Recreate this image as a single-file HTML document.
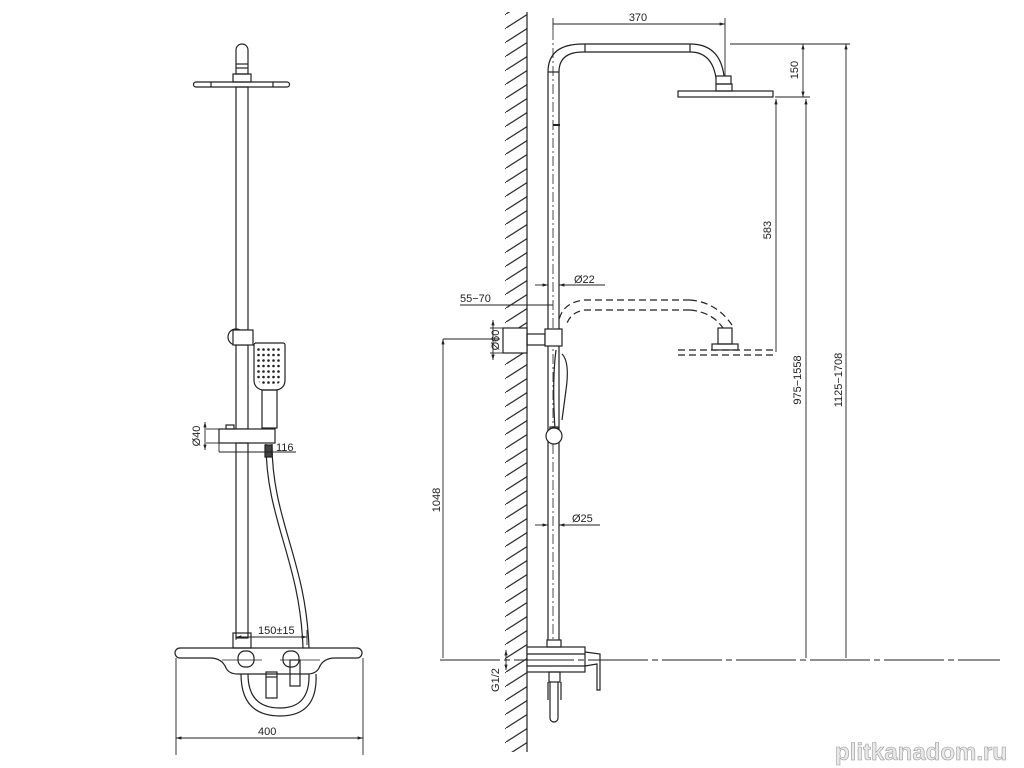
<!DOCTYPE html>
<html><head><meta charset="utf-8"><style>
html,body{margin:0;padding:0;background:#fff;}
svg{display:block;}
text{font-family:"Liberation Sans",sans-serif;fill:#222;}
</style></head><body>
<svg width="1024" height="768" viewBox="0 0 1024 768" xmlns="http://www.w3.org/2000/svg">
<defs>
<marker id="a" viewBox="0 0 10 10" refX="10" refY="5" markerWidth="6" markerHeight="6" orient="auto-start-reverse"><path d="M0,2 L10,5 L0,8 z" fill="#222"/></marker>
<pattern id="h" width="22" height="14" patternUnits="userSpaceOnUse"><path d="M0,14 L22,0" stroke="#333" stroke-width="1.3"/></pattern>
<pattern id="d" x="256" y="347" width="5" height="5.5" patternUnits="userSpaceOnUse"><circle cx="2.5" cy="2.5" r="1.3" fill="#222"/></pattern>
</defs>
<g fill="none" stroke="#222" stroke-width="1.2">
<!-- LEFT VIEW -->
<path d="M236,50 a6,6 0 0 1 12,0 V74 H236 Z"/>
<line x1="236" y1="64" x2="248" y2="64"/><line x1="236" y1="68" x2="248" y2="68"/>
<rect x="233" y="74" width="18" height="8"/>
<path d="M196,82 H287 a2,2 0 0 1 0,5 H196 a2,2 0 0 1 0,-5 Z"/>
<line x1="211" y1="82" x2="211" y2="87"/><line x1="273" y1="82" x2="273" y2="87"/>
<rect x="236" y="87" width="12" height="243"/>
<rect x="236" y="345" width="12" height="84"/>
<circle cx="236" cy="337" r="8"/>
<rect x="233" y="330" width="20" height="15" fill="#fff"/>
<path d="M255,343 H283 a2,2 0 0 1 2,2 V380 q0,8 -8,10 H262 q-8,-2 -8,-10 V345 a2,2 0 0 1 2,-2Z"/>
<path d="M257,347 H282 V378 q-2,6 -8,8 H265 q-6,-2 -8,-8 Z" fill="url(#d)" stroke="none"/>
<rect x="262" y="390" width="15" height="38"/>
<rect x="219" y="429" width="56" height="14" fill="#fff"/>
<rect x="226" y="425" width="8" height="4"/>
<rect x="236" y="443" width="12" height="195"/>
<rect x="233" y="633" width="18" height="15"/>
<path d="M266,444 C266,520 300,560 303,648 M272,444 C272,520 306,560 309,648"/>
<rect x="265" y="445" width="7" height="12" fill="#444"/>
<!-- mixer -->
<path d="M180,648 H357 a5,5 0 0 1 0,10 H335 q-12,0 -16,10 q-3,6 -12,6 H238 q-9,0 -12,-6 q-4,-10 -16,-10 H180 a5,5 0 0 1 0,-10 Z"/>
<path d="M241,674 Q241,716 280,716 Q318,716 316,674 M248,674 Q248,708 280,708 Q310,708 309,674"/>
<rect x="238" y="651" width="16" height="16" rx="7"/>
<rect x="283" y="651" width="16" height="16" rx="7"/>
<rect x="290" y="660" width="10" height="26"/>
<rect x="266" y="672" width="11" height="26"/>
<line x1="266" y1="677" x2="277" y2="677"/>
<line x1="222" y1="660" x2="262" y2="660" stroke-width="0.8"/>
<line x1="280" y1="660" x2="320" y2="660" stroke-width="0.8"/>
<!-- left dims -->
<g stroke-width="0.9">
<line x1="206" y1="429" x2="219" y2="429"/><line x1="206" y1="443" x2="219" y2="443"/>
<line x1="205" y1="422" x2="205" y2="450" marker-start="url(#a)" marker-end="url(#a)"/>
<line x1="219" y1="443" x2="219" y2="452"/>
<line x1="219" y1="452" x2="296" y2="452"/>
<line x1="236" y1="630" x2="236" y2="640"/><line x1="307" y1="630" x2="307" y2="645"/>
<line x1="236" y1="637" x2="307" y2="637" marker-start="url(#a)" marker-end="url(#a)"/>
<line x1="176" y1="658" x2="176" y2="755"/><line x1="363" y1="658" x2="363" y2="755"/>
<line x1="176" y1="738" x2="363" y2="738" marker-start="url(#a)" marker-end="url(#a)"/>
</g>
<!-- RIGHT VIEW -->
<rect x="505" y="12" width="22" height="740" fill="url(#h)" stroke="none"/>
<line x1="527" y1="12" x2="527" y2="752"/>
<path d="M548,640 V72 Q548,44 583,44 H690 Q720,44 724,76 M559,640 V72 Q559,52 583,52 H690 Q712,52 716,78"/>
<line x1="548" y1="72" x2="559" y2="72"/><line x1="585" y1="44" x2="585" y2="52"/><line x1="690" y1="44" x2="690" y2="52"/>
<rect x="716" y="76" width="15" height="8"/>
<rect x="716" y="84" width="16" height="7"/>
<rect x="678" y="91" width="95" height="6"/>
<line x1="553" y1="30" x2="553" y2="640" stroke-width="0.8" stroke-dasharray="10,3,2,3"/>
<line x1="553" y1="125" x2="560" y2="125" stroke-width="2"/>
<!-- dashed lower head -->
<g stroke-dasharray="7,4">
<path d="M690,300 H585 Q563,302 559,320 M690,310 H585 Q570,312 566,326"/>
<path d="M690,300 Q716,302 732,325 M690,310 Q712,312 723,328"/>
<path d="M678,350 H775 M678,355 H775"/>
</g>
<rect x="718" y="328" width="14" height="16"/><rect x="712" y="344" width="26" height="6"/>
<!-- wall bracket -->
<rect x="503" y="328" width="24" height="25" fill="#fff"/>
<rect x="527" y="334" width="18" height="11"/>
<rect x="545" y="329" width="17" height="17" fill="#fff"/>
<path d="M562,354 Q570,362 566,390 L562,420"/>
<path d="M556,350 Q552,380 555,430"/>
<rect x="550" y="427" width="8" height="6"/>
<circle cx="554" cy="436" r="8" fill="#fff"/>
<!-- bottom mixer -->
<rect x="527" y="647" width="58" height="25" fill="#fff"/>
<line x1="527" y1="654" x2="585" y2="654"/><line x1="527" y1="666" x2="585" y2="666"/>
<rect x="547" y="640" width="14" height="7"/>
<path d="M585,652 L600,654 V690 H597 V664 L585,666"/>
<rect x="549" y="672" width="11" height="10"/>
<path d="M550,682 V718 a4,4 0 0 0 8,0 V682"/>
<line x1="548" y1="682" x2="548" y2="700"/><line x1="561" y1="682" x2="561" y2="700"/>
<!-- right dims -->
<g stroke-width="0.9">
<line x1="553" y1="18" x2="553" y2="30"/><line x1="725" y1="18" x2="725" y2="76"/>
<line x1="553" y1="24" x2="725" y2="24" marker-end="url(#a)"/>
<line x1="730" y1="44" x2="850" y2="44"/><line x1="775" y1="97" x2="810" y2="97"/>
<line x1="803" y1="44" x2="803" y2="97" marker-start="url(#a)" marker-end="url(#a)"/>
<line x1="776" y1="99" x2="776" y2="352" marker-start="url(#a)"/>
<line x1="806" y1="99" x2="806" y2="658" marker-start="url(#a)"/>
<line x1="846" y1="44" x2="846" y2="658" marker-start="url(#a)"/>
<line x1="535" y1="285" x2="548" y2="285" marker-end="url(#a)"/>
<line x1="572" y1="285" x2="559" y2="285" marker-end="url(#a)"/>
<line x1="559" y1="285" x2="605" y2="285"/>
<line x1="460" y1="305" x2="553" y2="305"/>
<line x1="500" y1="339" x2="443" y2="339"/>
<line x1="443" y1="339" x2="443" y2="658" marker-start="url(#a)"/>
<line x1="493" y1="320" x2="493" y2="360" marker-start="url(#a)" marker-end="url(#a)"/>
<line x1="490" y1="328" x2="503" y2="328"/><line x1="490" y1="353" x2="503" y2="353"/>
<line x1="535" y1="525" x2="548" y2="525" marker-end="url(#a)"/>
<line x1="572" y1="525" x2="559" y2="525" marker-end="url(#a)"/>
<line x1="559" y1="525" x2="600" y2="525"/>
<line x1="440" y1="660" x2="1000" y2="660" stroke-dasharray="60,4,6,4"/>
<line x1="506" y1="650" x2="506" y2="670" marker-start="url(#a)" marker-end="url(#a)"/>
</g>
</g>
<g font-size="11">
<text x="258" y="634">150±15</text>
<text x="258" y="735">400</text>
<text x="276" y="451">116</text>
<text x="200" y="436" transform="rotate(-90 200 436)" text-anchor="middle">Ø40</text>
<text x="638" y="21" text-anchor="middle">370</text>
<text x="460" y="302">55−70</text>
<text x="574" y="283">Ø22</text>
<text x="572" y="522">Ø25</text>
<text x="798" y="70" transform="rotate(-90 798 70)" text-anchor="middle">150</text>
<text x="771" y="230" transform="rotate(-90 771 230)" text-anchor="middle">583</text>
<text x="801" y="380" transform="rotate(-90 801 380)" text-anchor="middle">975−1558</text>
<text x="842" y="380" transform="rotate(-90 842 380)" text-anchor="middle">1125−1708</text>
<text x="440" y="500" transform="rotate(-90 440 500)" text-anchor="middle">1048</text>
<text x="499" y="340" transform="rotate(-90 499 340)" text-anchor="middle">Ø60</text>
<text x="499" y="680" transform="rotate(-90 499 680)" text-anchor="middle">G1/2</text>
</g>
<text x="835" y="760" font-size="24" font-weight="bold" style="fill:#e8e8e8;stroke:#999;stroke-width:0.6">plitkanadom.ru</text>
</svg>
</body></html>
